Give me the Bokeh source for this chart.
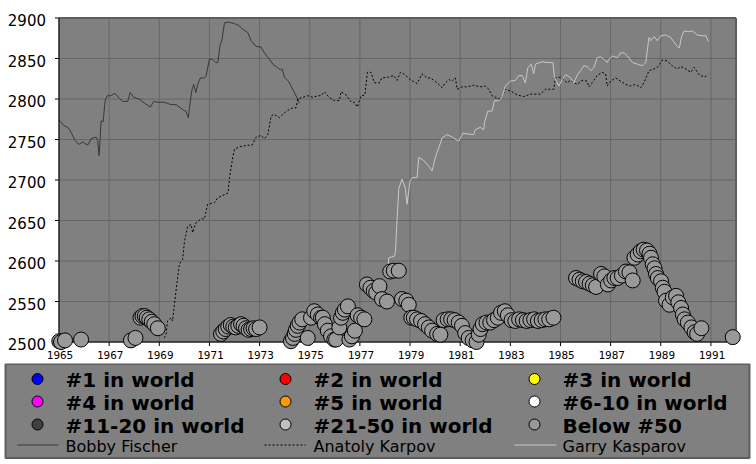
from bokeh.plotting import figure
from bokeh.models import Range1d
from bokeh.layouts import column
from bokeh.core.properties import value
from bokeh.embed import file_html
from bokeh.resources import INLINE

# ---------------- data ----------------
x_ticks = [1965, 1967, 1969, 1971, 1973, 1975, 1977, 1979, 1981, 1983, 1985, 1987, 1989, 1991]
y_ticks = [2500, 2550, 2600, 2650, 2700, 2750, 2800, 2850, 2900]
x_min, x_max = 1965, 1992
y_min, y_max = 2500, 2900

fischer_year = [1965.00, 1965.20, 1965.35, 1965.50, 1965.63, 1965.80, 1965.95, 1966.08, 1966.17, 1966.28,
                1966.48, 1966.54, 1966.60, 1966.68, 1966.76, 1966.84, 1966.92, 1967.07, 1967.23, 1967.40,
                1967.54, 1967.74, 1967.84, 1967.98, 1968.20, 1968.40, 1968.64, 1968.78, 1968.94, 1969.20,
                1969.47, 1969.67, 1969.93, 1970.06, 1970.16, 1970.20, 1970.30, 1970.37, 1970.46, 1970.53,
                1970.64, 1970.80, 1970.86, 1971.00, 1971.13, 1971.25, 1971.33, 1971.43, 1971.50, 1971.60,
                1971.74, 1972.00, 1972.16, 1972.33, 1972.53, 1972.66, 1972.86, 1973.06, 1973.19, 1973.39,
                1973.53, 1973.70, 1973.83, 1973.90, 1973.99, 1974.15, 1974.32, 1974.52, 1974.58]
fischer_elo = [2774, 2767, 2765, 2758, 2749, 2744, 2747, 2744, 2744, 2751,
               2753, 2749, 2730, 2773, 2772, 2798, 2804, 2804, 2807, 2801,
               2797, 2797, 2808, 2802, 2800, 2795, 2790, 2797, 2796, 2796,
               2793, 2793, 2787, 2785, 2777, 2789, 2811, 2818, 2808, 2818,
               2826, 2826, 2828, 2849, 2849, 2845, 2845, 2867, 2873, 2894,
               2895, 2893, 2891, 2886, 2882, 2872, 2865, 2864, 2857, 2849,
               2843, 2839, 2836, 2837, 2827, 2822, 2812, 2800, 2795]

karpov_year = [1969.20, 1969.27, 1969.33, 1969.47, 1969.53, 1969.60, 1969.73, 1969.80, 1969.93, 1970.00,
               1970.13, 1970.27, 1970.33, 1970.46, 1970.66, 1970.80, 1970.93, 1971.20, 1971.33, 1971.60,
               1971.74, 1971.80, 1971.93, 1972.00, 1972.20, 1972.53, 1972.70, 1972.86, 1973.06, 1973.19,
               1973.33, 1973.46, 1973.57, 1973.79, 1973.99, 1974.13, 1974.32, 1974.45, 1974.52, 1974.72,
               1974.92, 1975.12, 1975.32, 1975.45, 1975.58, 1975.78, 1975.98, 1976.18, 1976.25, 1976.45,
               1976.66, 1976.78, 1976.90, 1976.98, 1977.05, 1977.20, 1977.30, 1977.44, 1977.58, 1977.78,
               1977.88, 1978.15, 1978.35, 1978.48, 1978.62, 1978.75, 1979.01, 1979.28, 1979.48, 1979.68,
               1979.81, 1980.08, 1980.28, 1980.41, 1980.55, 1980.68, 1980.81, 1980.88, 1981.07, 1981.27,
               1981.54, 1981.80, 1982.00, 1982.14, 1982.27, 1982.54, 1982.67, 1982.80, 1983.00, 1983.27,
               1983.54, 1983.80, 1984.20, 1984.40, 1984.73, 1984.80, 1985.00, 1985.26, 1985.40, 1985.66,
               1985.86, 1986.06, 1986.13, 1986.26, 1986.46, 1986.66, 1986.80, 1986.86, 1987.00, 1987.20,
               1987.40, 1987.60, 1987.80, 1988.00, 1988.20, 1988.33, 1988.53, 1988.73, 1988.86, 1989.06,
               1989.26, 1989.46, 1989.66, 1989.80, 1990.00, 1990.20, 1990.33, 1990.53, 1990.73, 1990.90]
karpov_elo = [2505, 2509, 2526, 2530, 2526, 2546, 2579, 2596, 2602, 2623,
              2643, 2645, 2635, 2647, 2652, 2652, 2670, 2672, 2678, 2682,
              2684, 2703, 2728, 2738, 2741, 2743, 2743, 2753, 2755, 2751,
              2756, 2779, 2781, 2777, 2783, 2786, 2789, 2789, 2800, 2802,
              2804, 2802, 2804, 2804, 2809, 2802, 2798, 2798, 2809, 2805,
              2796, 2796, 2790, 2798, 2804, 2805, 2833, 2833, 2820, 2820,
              2826, 2827, 2829, 2823, 2833, 2831, 2824, 2819, 2831, 2826,
              2826, 2820, 2814, 2820, 2824, 2822, 2826, 2812, 2815, 2815,
              2817, 2815, 2816, 2812, 2804, 2800, 2802, 2812, 2810, 2805,
              2803, 2806, 2806, 2812, 2812, 2826, 2827, 2820, 2823, 2818,
              2823, 2822, 2815, 2820, 2829, 2833, 2831, 2816, 2822, 2826,
              2822, 2818, 2816, 2818, 2814, 2820, 2835, 2837, 2839, 2848,
              2847, 2841, 2837, 2840, 2837, 2833, 2839, 2830, 2827, 2830]

kasparov_year = [1978.13, 1978.15, 1978.38, 1978.42, 1978.48, 1978.55, 1978.68, 1978.81, 1978.88, 1979.00,
                 1979.10, 1979.28, 1979.35, 1979.55, 1979.75, 1979.88, 1980.01, 1980.15, 1980.28, 1980.48,
                 1980.68, 1980.94, 1981.11, 1981.27, 1981.54, 1981.60, 1981.80, 1981.94, 1981.97, 1982.10,
                 1982.27, 1982.37, 1982.54, 1982.67, 1982.80, 1983.00, 1983.20, 1983.34, 1983.47, 1983.60,
                 1983.70, 1983.83, 1983.93, 1984.00, 1984.27, 1984.47, 1984.70, 1984.76, 1984.93, 1985.07,
                 1985.20, 1985.38, 1985.54, 1985.66, 1985.80, 1985.93, 1986.07, 1986.21, 1986.34, 1986.46,
                 1986.60, 1986.73, 1986.86, 1986.93, 1987.07, 1987.27, 1987.40, 1987.54, 1987.67, 1987.87,
                 1988.07, 1988.27, 1988.40, 1988.53, 1988.60, 1988.73, 1988.86, 1989.00, 1989.20, 1989.40,
                 1989.60, 1989.74, 1989.83, 1989.93, 1990.13, 1990.27, 1990.46, 1990.66, 1990.80, 1990.90]
kasparov_elo = [2592, 2604, 2606, 2612, 2649, 2689, 2701, 2690, 2670, 2699,
                2703, 2703, 2728, 2724, 2717, 2711, 2728, 2740, 2752, 2756,
                2753, 2748, 2758, 2757, 2756, 2762, 2765, 2762, 2771, 2785,
                2785, 2798, 2798, 2802, 2816, 2822, 2823, 2829, 2829, 2820,
                2839, 2843, 2831, 2843, 2846, 2845, 2845, 2827, 2816, 2824,
                2830, 2827, 2820, 2829, 2835, 2841, 2840, 2835, 2839, 2851,
                2852, 2849, 2845, 2849, 2853, 2851, 2857, 2857, 2853, 2845,
                2843, 2841, 2845, 2876, 2872, 2877, 2872, 2878, 2879, 2876,
                2867, 2863, 2877, 2884, 2883, 2884, 2879, 2878, 2878, 2871]

rank_year = [1965.01, 1965.08, 1965.24, 1965.88, 1967.87, 1968.05, 1968.25, 1968.33, 1968.42, 1968.50,
             1968.60, 1968.70, 1968.80, 1968.94, 1971.46, 1971.55, 1971.65, 1971.75, 1971.85, 1971.95,
             1972.05, 1972.15, 1972.26, 1972.36, 1972.46, 1972.56, 1972.66, 1972.76, 1972.86, 1973.00,
             1974.25, 1974.33, 1974.40, 1974.45, 1974.52, 1974.59, 1974.70, 1974.92, 1975.05, 1975.18,
             1975.32, 1975.45, 1975.52, 1975.60, 1975.72, 1975.85, 1975.98, 1976.05, 1976.18, 1976.25,
             1976.32, 1976.40, 1976.52, 1976.58, 1976.68, 1976.80, 1976.91, 1977.05, 1977.18, 1977.28,
             1977.42, 1977.55, 1977.65, 1977.78, 1977.88, 1978.08, 1978.21, 1978.35, 1978.55, 1978.68,
             1978.85, 1978.95, 1979.05, 1979.15, 1979.28, 1979.44, 1979.60, 1979.75, 1979.88, 1980.08,
             1980.21, 1980.34, 1980.50, 1980.64, 1980.78, 1980.94, 1981.07, 1981.20, 1981.34, 1981.50,
             1981.65, 1981.74, 1981.81, 1981.90, 1982.05, 1982.20, 1982.35, 1982.50, 1982.63, 1982.78,
             1982.90, 1983.05, 1983.20, 1983.35, 1983.50, 1983.65, 1983.80, 1983.95, 1984.10, 1984.25,
             1984.40, 1984.55, 1984.72, 1985.62, 1985.76, 1985.89, 1986.02, 1986.16, 1986.29, 1986.42,
             1986.62, 1986.75, 1986.89, 1987.02, 1987.15, 1987.28, 1987.45, 1987.61, 1987.75, 1987.88,
             1987.95, 1988.08, 1988.20, 1988.32, 1988.45, 1988.55, 1988.61, 1988.68, 1988.75, 1988.81,
             1988.88, 1989.01, 1989.08, 1989.15, 1989.21, 1989.35, 1989.48, 1989.61, 1989.70, 1989.81,
             1989.88, 1989.95, 1990.08, 1990.22, 1990.35, 1990.45, 1990.62, 1991.87]
rank_elo = [2501, 2500, 2502, 2503, 2502, 2505, 2530, 2532, 2532, 2530,
            2528, 2525, 2522, 2517, 2510, 2513, 2516, 2519, 2521, 2519,
            2518, 2520, 2522, 2520, 2517, 2515, 2516, 2517, 2516, 2518,
            2501, 2505, 2510, 2515, 2520, 2524, 2528, 2505, 2530, 2538,
            2534, 2530, 2530, 2522, 2514, 2507, 2503, 2503, 2518, 2530,
            2536, 2540, 2544, 2503, 2507, 2514, 2533, 2530, 2528, 2571,
            2567, 2563, 2561, 2569, 2553, 2550, 2587, 2588, 2588, 2553,
            2551, 2546, 2530, 2530, 2528, 2526, 2522, 2518, 2514, 2510,
            2509, 2527, 2528, 2528, 2527, 2524, 2520, 2511, 2505, 2502,
            2500, 2509, 2516, 2522, 2524, 2524, 2527, 2530, 2536, 2538,
            2533, 2527, 2526, 2528, 2527, 2526, 2527, 2528, 2526, 2527,
            2528, 2528, 2530, 2579, 2577, 2575, 2574, 2572, 2570, 2568,
            2584, 2581, 2571, 2576, 2579, 2579, 2582, 2587, 2586, 2576,
            2604, 2608, 2612, 2614, 2613, 2609, 2604, 2596, 2591, 2584,
            2579, 2575, 2567, 2562, 2551, 2546, 2555, 2557, 2549, 2542,
            2534, 2528, 2524, 2518, 2512, 2510, 2517, 2506]

rank_labels = ["#1 in world", "#2 in world", "#3 in world",
               "#4 in world", "#5 in world", "#6-10 in world",
               "#11-20 in world", "#21-50 in world", "Below #50"]
rank_colors = ["#0000ff", "#ff0000", "#ffff00",
               "#ff00ff", "#ff9900", "#ffffff",
               "#404040", "#c0c0c0", "#999999"]

player_names = ["Bobby Fischer", "Anatoly Karpov", "Garry Kasparov"]
player_colors = ["#383838", "#000000", "#c8c8c8"]
player_dashes = ["solid", "2 2", "solid"]

# ---------------- layout (pixels) ----------------
W, H = 756, 363               # main figure size
FX0, FX1 = 58.5, 735.5        # plot area left/right in px
FY0, FY1 = 17.5, 341.5        # plot area top/bottom in px
sx = (FX1 - FX0) / (x_max - x_min)
sy = (FY1 - FY0) / (y_max - y_min)
xr = Range1d(x_min - FX0 / sx, x_max + (W - FX1) / sx)
yr = Range1d(y_min - (H - FY1) / sy, y_max + FY0 / sy)

FONT = value("DejaVu Sans")

p = figure(width=W, height=H, x_range=xr, y_range=yr, min_border=0,
           output_backend="svg", toolbar_location=None, tools="")
p.axis.visible = False
p.grid.visible = False
p.outline_line_color = None
p.background_fill_color = "#ffffff"
p.border_fill_color = "#ffffff"

# tick marks (outer half only stays visible, inner half is covered by the plot area)
p.scatter(x_ticks, [y_min] * len(x_ticks), marker="dash", angle=1.5707963, size=8,
          line_color="#000000", line_width=1)
p.scatter([x_min] * len(y_ticks), y_ticks, marker="dash", size=8,
          line_color="#000000", line_width=1)

# plot area
p.quad(left=[x_min], right=[x_max], bottom=[y_min], top=[y_max],
       fill_color="#808080", line_color=None)

# grid
p.segment(x0=x_ticks, y0=[y_min] * len(x_ticks), x1=x_ticks, y1=[y_max] * len(x_ticks),
          line_color="#666666", line_width=1)
p.segment(x0=[x_min] * len(y_ticks), y0=y_ticks, x1=[x_max] * len(y_ticks), y1=y_ticks,
          line_color="#666666", line_width=1)
# frame top / right
p.segment(x0=[x_min, x_max], y0=[y_max, y_min], x1=[x_max, x_max], y1=[y_max, y_max],
          line_color="#5e5e5e", line_width=2)

# players' rating lines
series = [(fischer_year, fischer_elo), (karpov_year, karpov_elo), (kasparov_year, kasparov_elo)]
for (xs, ys), col, dash in zip(series, player_colors, player_dashes):
    p.line(xs, ys, line_color=col, line_width=1, line_dash=dash)

# axis lines
p.segment(x0=[x_min, x_min], y0=[y_min, y_min], x1=[x_max, x_min], y1=[y_min, y_max],
          line_color="#000000", line_width=1)

# ranking markers
p.scatter(rank_year, rank_elo, size=15, fill_color=rank_colors[-1],
          line_color="#000000", line_width=1)

# tick labels
p.text([x_min] * len(y_ticks), y_ticks, text=[str(t) for t in y_ticks],
       x_offset=-13, y_offset=2, text_align="right", text_baseline="middle",
       text_font=FONT, text_font_size="15px", text_color="#000000")
p.text(x_ticks, [y_min] * len(x_ticks), text=[str(t) for t in x_ticks],
       x_offset=1, y_offset=13, text_align="center", text_baseline="middle",
       text_font=value("DejaVu Sans Mono"), text_font_size="11px", text_color="#000000")

# ---------------- legend panel ----------------
LH = 96
L = figure(width=W, height=LH, x_range=Range1d(0, W), y_range=Range1d(LH, 0),
           min_border=0, output_backend="svg", toolbar_location=None, tools="")
L.axis.visible = False
L.grid.visible = False
L.outline_line_color = None
L.background_fill_color = "#ffffff"
L.border_fill_color = "#ffffff"
L.quad(left=[5], right=[749], top=[0.5], bottom=[94.5], fill_color="#808080",
       line_color="#5e5e5e", line_width=2)

col_marker_x = [37, 285, 534]
col_text_x = [65, 313, 562]
row_y = [15.5, 38, 61]

mx = [col_marker_x[i % 3] for i in range(len(rank_labels))]
tx = [col_text_x[i % 3] for i in range(len(rank_labels))]
ty = [row_y[i // 3] for i in range(len(rank_labels))]
L.scatter(mx, ty, size=11, fill_color=rank_colors, line_color="#000000", line_width=1)
L.text(tx, ty, text=rank_labels, text_font=FONT, text_font_style="bold",
       text_font_size="20px", text_baseline="middle", text_color="#000000", y_offset=1)

line_x0 = [17, 264, 514]
line_x1 = [58, 305, 556]
line_row = 81.5
for i, name in enumerate(player_names):
    L.line([line_x0[i], line_x1[i]], [line_row, line_row], line_color=player_colors[i],
           line_width=1, line_dash=player_dashes[i])
L.text(col_text_x, [line_row] * 3, text=player_names, text_font=FONT,
       text_font_size="16px", text_baseline="middle", text_color="#000000", y_offset=1)

layout = column(p, L, spacing=0)
open("out.html", "w").write(file_html(layout, INLINE))
